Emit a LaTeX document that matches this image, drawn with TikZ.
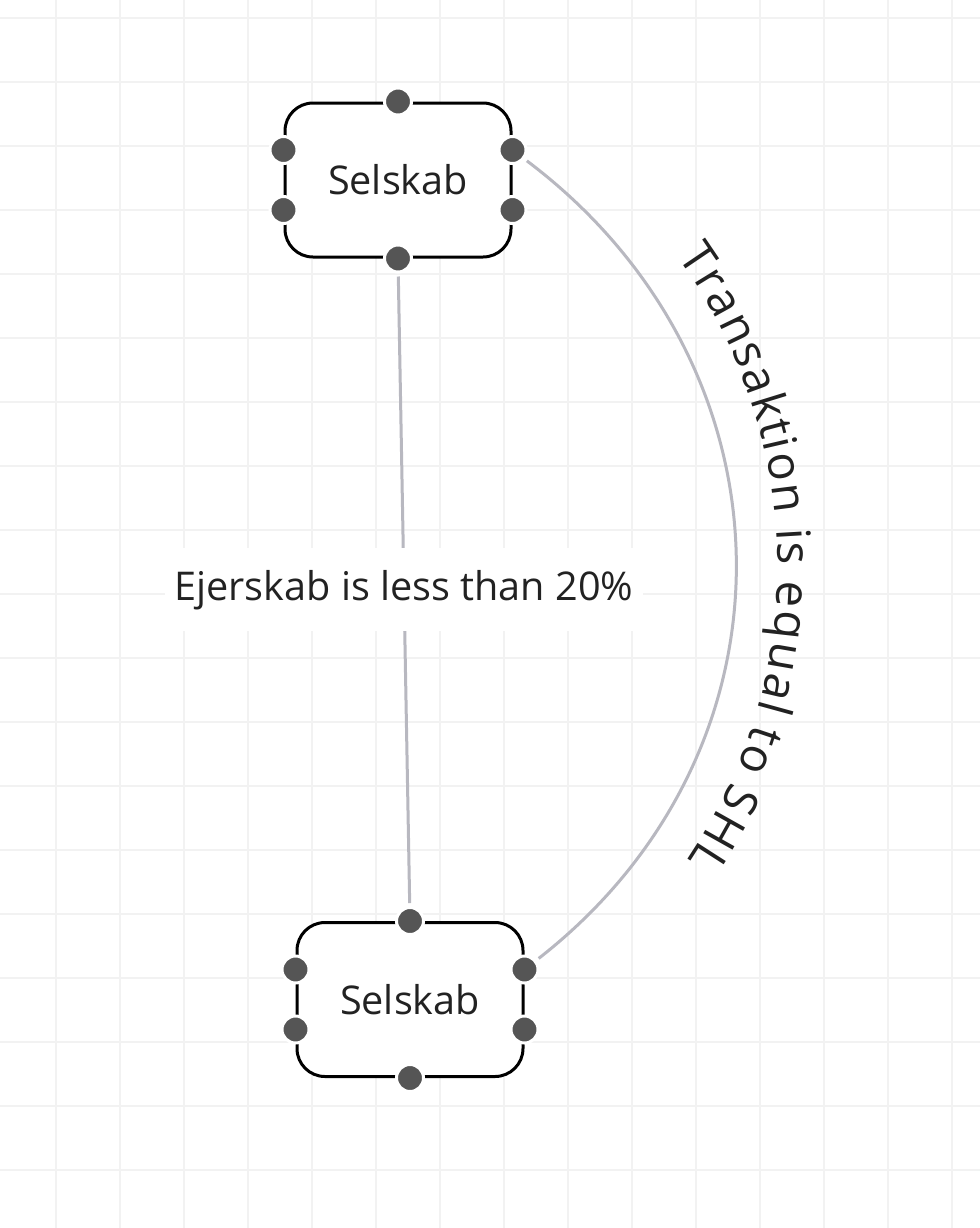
\documentclass[tikz,border=0pt]{standalone}
\usepackage{fontspec}
\setmainfont{Open Sans}
\usetikzlibrary{decorations.text,positioning}
\definecolor{gridline}{HTML}{F2F2F2}
\definecolor{portgray}{HTML}{555555}
\definecolor{edgegray}{HTML}{B8B8C0}
\definecolor{labeltext}{HTML}{222222}

\tikzset{
    entity/.style={draw=black, line width=1.5pt, rounded corners=14pt, fill=white,
        minimum width=113pt, minimum height=77pt, text=labeltext,
        font=\fontsize{19.8}{24}\selectfont},
    port/.style={circle, fill=portgray, draw=white, line width=1.5pt,
        minimum size=13.5pt, inner sep=0pt},
    link/.style={draw=edgegray, line width=1.5pt, shorten <=1.5pt, shorten >=1.5pt},
    linklabel/.style={fill=white, text=labeltext, inner xsep=5pt, minimum height=41.5pt,
        font=\fontsize{19.8}{24}\selectfont}
}

\begin{document}
\begin{tikzpicture}[x=0.5pt, y=0.5pt]
    \useasboundingbox (0,0) rectangle (980,-1228);
    \fill[white] (0,0) rectangle (980,-1228);

    % Background grid
    \foreach \x in {56,120,...,952} {
        \draw[gridline, line width=1pt] (\x,0) -- (\x,-1228);
    }
    \foreach \y in {18,82,...,1210} {
        \draw[gridline, line width=1pt] (0,-\y) -- (980,-\y);
    }

    % Entities
    \node[entity] (sel1) at (398,-180) {Selskab};
    \node[entity] (sel2) at (410,-999.5) {Selskab};

    % Connection points
    \foreach \n in {sel1,sel2} {
        \node[port] (\n-n) at (\n.north) {};
        \node[port] (\n-s) at (\n.south) {};
        \node[port] (\n-wa) at ([yshift=15pt]\n.west) {};
        \node[port] (\n-wb) at ([yshift=-15pt]\n.west) {};
        \node[port] (\n-ea) at ([yshift=15pt]\n.east) {};
        \node[port] (\n-eb) at ([yshift=-15pt]\n.east) {};
    }

    % Ownership relation
    \draw[link] (sel1-s) -- (sel2-n)
        node[linklabel, midway] (ownlabel) {Ejerskab is less than 20\%};

    % Transaction relation
    \draw[link, postaction={decorate},
        decoration={text along path, text align=center, raise=21pt, text color=labeltext,
            text={|\fontsize{23.5}{28}\selectfont|Transaktion is equal to SHL}}]
        (sel1-ea) to[out=-37, in=38, looseness=1.1] (sel2-ea);
\end{tikzpicture}
\end{document}
